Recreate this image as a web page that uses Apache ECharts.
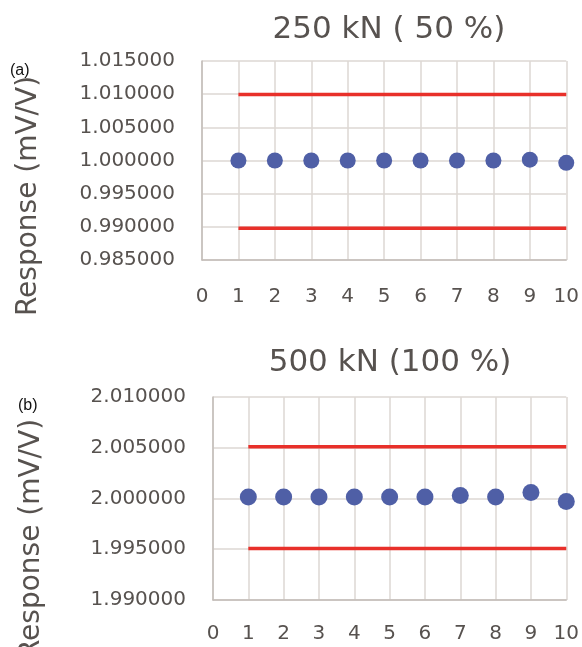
<!DOCTYPE html>
<html>
<head>
<meta charset="utf-8">
<script src="https://cdn.jsdelivr.net/npm/echarts@6/dist/echarts.min.js"></script>
<style>
html,body{margin:0;padding:0;background:#fff;}
#chart{width:582px;height:647px;}
</style>
</head>
<body>
<div id="chart"></div>
<script>
// ---- data ----
const titleA = '250 kN ( 50 %)';
const titleB = '500 kN (100 %)';
const panelLabels = ['(a)', '(b)'];
const axisName = 'Response (mV/V)';
const xValues = [1, 2, 3, 4, 5, 6, 7, 8, 9, 10];
const responseA = [1.0, 1.0, 1.0, 1.0, 1.0, 1.0, 1.0, 1.0, 1.00012, 0.99965];
const responseB = [2.00015, 2.00015, 2.00015, 2.00015, 2.00015, 2.00015, 2.0003, 2.00015, 2.0006, 1.9997];
const limitUpperA = 1.00995;
const limitLowerA = 0.9898;
const limitUpperB = 2.0051;
const limitLowerB = 1.99508;
const limitX = [1, 10];
const stubX = [10.05, 10.25];   // small orange stub right of panel (b)
const yTicksA = [0.985, 1.015, 0.005];
const yTicksB = [1.990, 2.010, 0.005];
const xTicks = [0, 10, 1];

// ---- styles ----
const FONT = 'DejaVu Sans';
const TXT = '#57524f';
const GRID = '#ddd7d3';
const AXIS = '#c2bcb8';
const DOT = '#4f5fa6';
const RED = '#e8302a';

const chart = echarts.init(document.getElementById('chart'), null, {renderer: 'canvas'});

function xAxisFor(gi, margin) {
  return {
    type: 'value', gridIndex: gi, min: xTicks[0], max: xTicks[1], interval: xTicks[2],
    axisLine: {show: true, lineStyle: {color: AXIS, width: 1.5}},
    axisTick: {show: false},
    splitLine: {show: true, lineStyle: {color: GRID, width: 1.5}},
    axisLabel: {color: TXT, fontFamily: FONT, fontSize: 20, margin: margin}
  };
}
function yAxisFor(gi, t) {
  return {
    type: 'value', gridIndex: gi, min: t[0], max: t[1], interval: t[2],
    axisLine: {show: true, lineStyle: {color: AXIS, width: 1.5}},
    axisTick: {show: false},
    splitLine: {show: true, lineStyle: {color: GRID, width: 1.5}},
    axisLabel: {color: TXT, fontFamily: FONT, fontSize: 20, margin: 27,
      formatter: v => v.toFixed(6)}
  };
}
function pts(xs, ys) { return xs.map((x, i) => [x, ys[i]]); }
function limitSeries(gi, y) {
  return {
    type: 'line', xAxisIndex: gi, yAxisIndex: gi, data: limitX.map(x => [x, y]),
    showSymbol: false, symbol: 'none', lineStyle: {color: RED, width: 3.5}, z: 3, silent: true
  };
}

const option = {
  animation: false,
  backgroundColor: '#ffffff',
  title: [
    {text: titleA, left: 384, top: 9, textAlign: 'center',
      textStyle: {color: TXT, fontFamily: FONT, fontSize: 31, fontWeight: 'normal'}},
    {text: titleB, left: 385, top: 342, textAlign: 'center',
      textStyle: {color: TXT, fontFamily: FONT, fontSize: 31, fontWeight: 'normal'}}
  ],
  graphic: [
    {type: 'text', left: 10, top: 63, style: {text: panelLabels[0], fill: '#111', font: '16px "Liberation Sans"'}},
    {type: 'text', left: 18, top: 398, style: {text: panelLabels[1], fill: '#111', font: '16px "Liberation Sans"'}},
    {type: 'text', x: 29, y: 196, rotation: Math.PI / 2,
      style: {text: axisName, fill: TXT, font: '28px "DejaVu Sans"', align: 'center', verticalAlign: 'middle'}},
    {type: 'text', x: 32, y: 539, rotation: Math.PI / 2,
      style: {text: axisName, fill: TXT, font: '28px "DejaVu Sans"', align: 'center', verticalAlign: 'middle'}}
  ],
  grid: [
    {left: 202, right: 15, top: 61, height: 199},
    {left: 213, right: 14, top: 397, height: 203}
  ],
  xAxis: [xAxisFor(0, 27), xAxisFor(1, 24)],
  yAxis: [yAxisFor(0, yTicksA), yAxisFor(1, yTicksB)],
  series: [
    limitSeries(0, limitUpperA),
    limitSeries(0, limitLowerA),
    {type: 'scatter', xAxisIndex: 0, yAxisIndex: 0, data: pts(xValues, responseA),
      symbolSize: 16, itemStyle: {color: DOT, opacity: 1}, z: 4, clip: false},
    limitSeries(1, limitUpperB),
    limitSeries(1, limitLowerB),
    {type: 'line', xAxisIndex: 1, yAxisIndex: 1, data: stubX.map(x => [x, limitUpperB]),
      symbol: 'none', clip: false, lineStyle: {color: '#f0883a', width: 2}, silent: true},
    {type: 'scatter', xAxisIndex: 1, yAxisIndex: 1, data: pts(xValues, responseB),
      symbolSize: 17, itemStyle: {color: DOT, opacity: 1}, z: 4, clip: false}
  ]
};
chart.setOption(option);
</script>
</body>
</html>
